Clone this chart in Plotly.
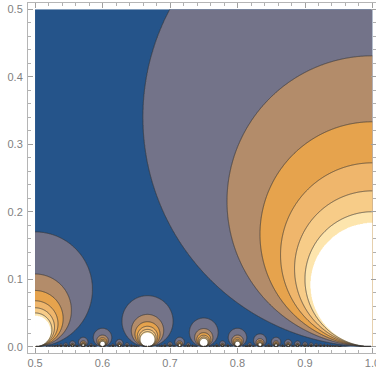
import numpy as np
import plotly.graph_objects as go
from math import gcd

# ---- data / parameters ----
x_domain = [0.5, 1.0]
y_domain = [0.0, 0.5]
contour_levels = [1.47, 2.32, 3.0, 3.67, 4.33, 5.0]   # lined contour levels of max Im(gamma*tau)
clip_level = 5.46                                      # above this: white (outside plot range)
band_colors = ["#25548a", "#737389", "#b38c6a", "#e6a34d",
               "#efb66c", "#f7cc88", "#fde5ad", "#ffffff"]
x_ticks = [0.5, 0.6, 0.7, 0.8, 0.9, 1.0]
y_ticks = [0.0, 0.1, 0.2, 0.3, 0.4, 0.5]
max_denominator = 30

# ---- field: height of tau = x + i y under the modular group ----
nx, ny = 641, 641
x = np.linspace(x_domain[0], x_domain[1], nx)
y = np.linspace(y_domain[0], y_domain[1], ny)
y[0] = 1e-5
X, Y = np.meshgrid(x, y)
H = Y.copy()
for q in range(1, max_denominator + 1):
    for p in range(int(np.floor(0.45 * q)), int(np.ceil(1.05 * q)) + 1):
        if gcd(p, q) != 1:
            continue
        v = Y / ((q * X - p) ** 2 + (q * Y) ** 2)
        np.maximum(H, v, out=H)

breaks = [0.0] + contour_levels + [clip_level]
Z = np.interp(H, breaks, np.arange(len(breaks)))
Z[H > clip_level] = len(breaks) - 0.5
Z = np.round(Z, 3)

nb = len(band_colors)          # 8 bands, contour levels 1..7
top = nb - 1                   # 7
cs = []
for k in range(nb - 1):
    a = k / top
    b = (k + 1) / top if k < nb - 2 else 0.96
    cs.append([a, band_colors[k]])
    cs.append([b, band_colors[k]])
cs.append([0.96, band_colors[-1]])
cs.append([1.0, band_colors[-1]])

fill = go.Contour(
    x=x, y=y, z=Z,
    contours=dict(start=1, end=top, size=1, coloring="fill", showlines=False),
    colorscale=cs, showscale=False, line=dict(width=0), hoverinfo="skip",
)
lines = go.Contour(
    x=x, y=y, z=Z,
    contours=dict(start=1, end=len(contour_levels), size=1, coloring="none", showlines=True),
    line=dict(color="rgba(55,55,55,0.75)", width=0.9),
    showscale=False, hoverinfo="skip",
)

fig = go.Figure([fill, lines])
axis_common = dict(
    automargin=False,
    showline=True, linecolor="#b5b5b5", linewidth=1, mirror="ticks",
    ticks="inside", ticklen=5, tickcolor="#a0a0a0", tickwidth=1,
    minor=dict(ticks="inside", ticklen=3, tickcolor="#b0b0b0", dtick=0.02),
    showgrid=False, zeroline=False, tickformat=".1f",
    ticklabeloverflow="allow",
    tickfont=dict(family="Liberation Sans, Arial, sans-serif", size=11, color="#7f7f7f"),
)
fig.update_xaxes(range=[0.4896, 1.0052], tickvals=x_ticks, ticklabelstandoff=0, **axis_common)
fig.update_yaxes(range=[-0.0093, 0.5093], tickvals=y_ticks, ticklabelstandoff=2, **axis_common)
fig.update_layout(
    width=376, height=372,
    margin=dict(l=28, r=0, t=3, b=19, pad=0),
    plot_bgcolor="white", paper_bgcolor="white",
    showlegend=False,
)
fig.write_html("out.html", config={"displayModeBar": False},
               post_script="document.body.style.margin='0px';")
